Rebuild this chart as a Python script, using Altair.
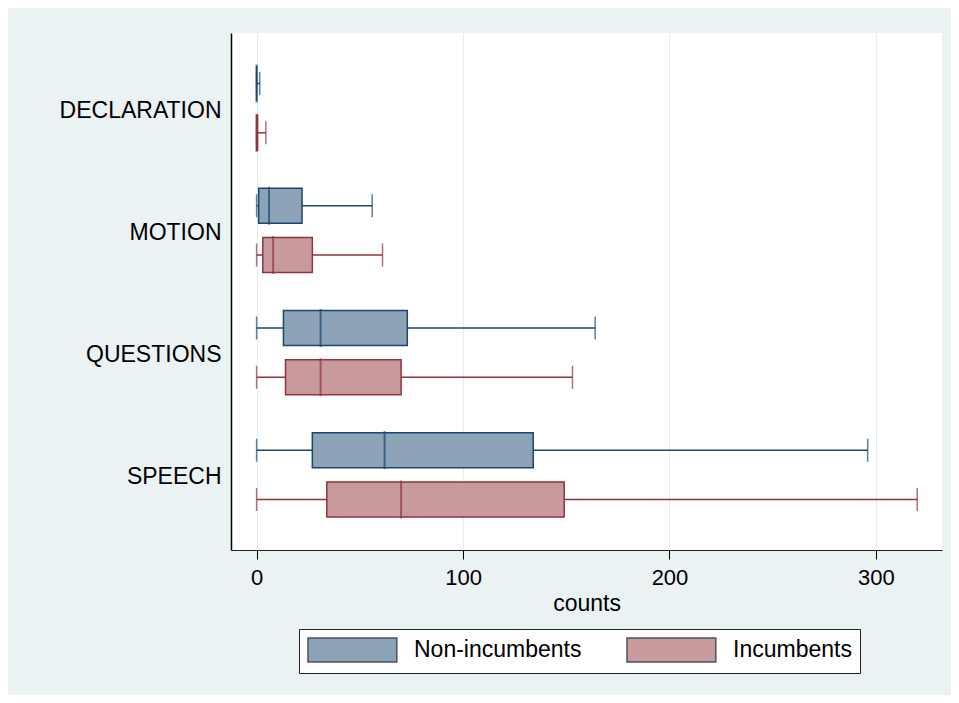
import altair as alt
import pandas as pd

categories = ["DECLARATION", "MOTION", "QUESTIONS", "SPEECH"]
groups = ["Non-incumbents", "Incumbents"]

# Non-incumbents summary (per category)
non_min = [0, 0, 0, 0]
non_q1 = [0, 1, 13, 27]
non_med = [0, 6, 31, 62]
non_q3 = [0, 22, 73, 134]
non_max = [1.5, 56, 164, 296]

# Incumbents summary (per category)
inc_min = [0, 0, 0, 0]
inc_q1 = [0, 3, 14, 34]
inc_med = [0, 8, 31, 70]
inc_q3 = [0.5, 27, 70, 149]
inc_max = [4.5, 61, 153, 320]

fills = ["#8CA3B7", "#C89A9D"]
strokes = ["#1A476F", "#90353B"]

rows = []
for g, mn, a, m, b, mx in [
    (groups[0], non_min, non_q1, non_med, non_q3, non_max),
    (groups[1], inc_min, inc_q1, inc_med, inc_q3, inc_max),
]:
    for i, c in enumerate(categories):
        rows.append(dict(category=c, group=g, lo=mn[i], q1=a[i], med=m[i], q3=b[i], hi=mx[i]))
df = pd.DataFrame(rows)

xscale = alt.Scale(domain=[-12.4, 332], nice=False, zero=False)
xaxis = alt.Axis(
    values=[0, 100, 200, 300], title="counts", grid=True, gridColor="#E3EDEF", gridWidth=1,
    tickSize=9, tickColor="#000", domainColor="#222", domainWidth=1,
    labelFontSize=22, labelColor="#000", labelPadding=8,
    titleFontSize=23, titleFontWeight="normal", titleColor="#000", titlePadding=4,
)
y = alt.Y(
    "category:N", sort=categories,
    scale=alt.Scale(domain=categories, paddingInner=0, paddingOuter=0.115),
    axis=alt.Axis(title=None, ticks=False, labelFontSize=23, labelPadding=10, labelColor="#000",
                  labelOffset=2.5, domainColor="#000", domainWidth=1.5, grid=False),
)
yoff = alt.YOffset("group:N", sort=groups,
                   scale=alt.Scale(domain=groups, paddingInner=0, paddingOuter=0.24))
line_scale = alt.Scale(domain=groups, range=strokes)

legend = alt.Legend(
    title=None, orient="none", legendX=68, legendY=596, direction="horizontal", columns=2,
    symbolType="M-1,-1H6.4V1H-1Z", symbolSize=576, symbolStrokeWidth=1.5,
    symbolStrokeColor="#4E5262", symbolOpacity=1,
    labelFontSize=23, labelColor="#000", labelOffset=81, labelLimit=400,
    columnPadding=42, padding=8, fillColor="white", strokeColor="#222",
)

base = alt.Chart(df)

whisk = base.mark_rule(strokeWidth=1.5).encode(
    x=alt.X("lo:Q", scale=xscale, axis=xaxis, title="counts"),
    x2="hi:Q",
    y=y, yOffset=yoff,
    color=alt.Color("group:N", scale=line_scale, legend=None),
)
cap_lo = base.mark_tick(size=23, thickness=1.5).encode(
    x=alt.X("lo:Q", scale=xscale, title="counts"), y=y, yOffset=yoff,
    color=alt.Color("group:N", scale=line_scale, legend=None),
)
cap_hi = base.mark_tick(size=23, thickness=1.5).encode(
    x=alt.X("hi:Q", scale=xscale, title="counts"), y=y, yOffset=yoff,
    color=alt.Color("group:N", scale=line_scale, legend=None),
)
box = base.mark_bar(size=35, strokeWidth=1.5).encode(
    x=alt.X("q1:Q", scale=xscale, title="counts"), x2="q3:Q",
    y=y, yOffset=yoff,
    fill=alt.Fill("group:N", scale=alt.Scale(range=fills), sort=groups, legend=legend),
    stroke=alt.Stroke("group:N", scale=line_scale, legend=None),
)
median = base.mark_tick(size=38, thickness=2).encode(
    x=alt.X("med:Q", scale=xscale, title="counts"), y=y, yOffset=yoff,
    color=alt.Color("group:N", scale=line_scale, legend=None),
)

chart = (
    alt.layer(whisk, box, median, cap_lo, cap_hi)
    .properties(
        width=711, height=517,
        autosize=alt.AutoSizeParams(type="none"),
        padding={"left": 223, "top": 25, "right": 9, "bottom": 145},
    )
    .configure(font="Liberation Sans", background="#EAF2F3")
    .configure_view(fill="white", strokeWidth=0)
    .configure_legend(strokeWidth=1)
)

chart.save("out.html", embed_options={"renderer": "svg", "actions": False})
